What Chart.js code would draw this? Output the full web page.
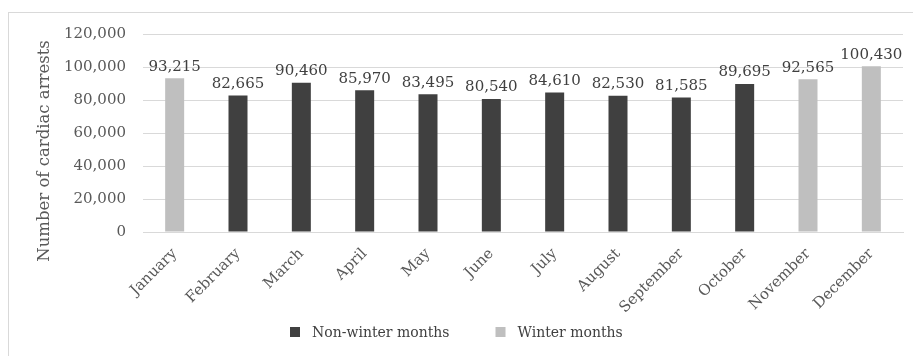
<!DOCTYPE html>
<html>
<head>
<meta charset="utf-8">
<script src="https://cdn.jsdelivr.net/npm/chart.js@4.4.1/dist/chart.umd.min.js"></script>
<style>
html,body{margin:0;padding:0;background:#fff;}
#wrap{width:913px;height:356px;position:relative;}
</style>
</head>
<body>
<div id="wrap"><canvas id="c" width="913" height="356"></canvas></div>
<script>
const months = ["January","February","March","April","May","June","July","August","September","October","November","December"];
const arrests = [93215, 82665, 90460, 85970, 83495, 80540, 84610, 82530, 81585, 89695, 92565, 100430];
const isWinter = [true,false,false,false,false,false,false,false,false,false,true,true];
const seriesNames = ["Non-winter months","Winter months"];
const seriesColors = ["#404040","#bfbfbf"];
const yTicks = [0, 20000, 40000, 60000, 80000, 100000, 120000];
const yTitle = "Number of cardiac arrests";

const nonWinter = arrests.map((v,i)=> isWinter[i] ? null : v);
const winter = arrests.map((v,i)=> isWinter[i] ? v : null);

const FONT = "'DejaVu Serif', serif";
const fmt = v => v.toLocaleString('en-US');

const framePlugin = {
  id: 'frame',
  beforeDraw(chart){
    const ctx = chart.ctx;
    ctx.save();
    ctx.fillStyle = '#fff';
    ctx.fillRect(0,0,chart.width,chart.height);
    ctx.strokeStyle = '#d9d9d9';
    ctx.lineWidth = 1;
    ctx.strokeRect(8.5, 12.5, 1200, 1200);
    ctx.restore();
  }
};

const labelPlugin = {
  id: 'vlabels',
  afterDatasetsDraw(chart){
    const ctx = chart.ctx;
    ctx.save();
    ctx.font = "15px " + FONT;
    ctx.fillStyle = '#404040';
    ctx.textAlign = 'center';
    ctx.textBaseline = 'bottom';
    chart.data.datasets.forEach((ds, di) => {
      const meta = chart.getDatasetMeta(di);
      meta.data.forEach((bar, i) => {
        const v = ds.data[i];
        if (v == null) return;
        ctx.fillText(fmt(v), bar.x, bar.y - 4);
      });
    });
    ctx.restore();
  }
};

const yTitlePlugin = {
  id: 'ytitle',
  afterDraw(chart){
    const ctx = chart.ctx;
    ctx.save();
    ctx.font = "16.5px " + FONT;
    ctx.fillStyle = '#595959';
    ctx.textAlign = 'center';
    ctx.textBaseline = 'middle';
    ctx.translate(45, 151);
    ctx.rotate(-Math.PI/2);
    ctx.fillText(yTitle, 0, 0);
    ctx.restore();
  }
};

const legendPlugin = {
  id: 'customLegend',
  afterDraw(chart){
    const ctx = chart.ctx;
    ctx.save();
    ctx.font = "14px " + FONT;
    ctx.textBaseline = 'middle';
    ctx.textAlign = 'left';
    const box = 10, gapText = 12, gapItem = 46;
    const items = chart.data.datasets.map(ds => ({ text: ds.label, color: ds.backgroundColor }));
    let total = 0;
    items.forEach((it, k) => {
      it.w = ctx.measureText(it.text).width;
      total += box + gapText + it.w + (k < items.length - 1 ? gapItem : 0);
    });
    let x = Math.round(chart.width / 2 - total / 2);
    const cy = 332;
    items.forEach(it => {
      ctx.fillStyle = it.color;
      ctx.fillRect(x, cy - box/2, box, box);
      ctx.fillStyle = '#404040';
      ctx.fillText(it.text, x + box + gapText, cy + 1);
      x += box + gapText + it.w + gapItem;
    });
    ctx.restore();
  }
};

new Chart(document.getElementById('c'), {
  type: 'bar',
  data: {
    labels: months,
    datasets: [
      { label: seriesNames[0], data: nonWinter, backgroundColor: seriesColors[0], grouped: false },
      { label: seriesNames[1], data: winter, backgroundColor: seriesColors[1], grouped: false }
    ]
  },
  options: {
    responsive: false,
    animation: false,
    devicePixelRatio: 1,
    layout: { padding: { left: 0, right: 10, top: 34, bottom: 34 } },
    datasets: { bar: { categoryPercentage: 1, barPercentage: 0.3 } },
    plugins: {
      legend: { display: false },
      tooltip: { enabled: false }
    },
    scales: {
      x: {
        grid: { display: false, drawTicks: false },
        border: { display: true, color: '#d9d9d9' },
        ticks: {
          font: { family: FONT, size: 15 },
          color: '#595959',
          minRotation: 45,
          maxRotation: 45,
          autoSkip: false,
          padding: 13
        },
        afterFit(scale){ scale.height = 90; }
      },
      y: {
        min: 0, max: 120000,
        afterBuildTicks(scale){ scale.ticks = yTicks.map(v=>({value:v})); },
        grid: { color: '#d9d9d9', drawTicks: false },
        border: { display: false },
        ticks: {
          font: { family: FONT, size: 15 },
          color: '#595959',
          padding: 17,
          callback: v => fmt(v)
        },
        afterFit(scale){ scale.width = 143; }
      }
    }
  },
  plugins: [framePlugin, labelPlugin, yTitlePlugin, legendPlugin]
});
</script>
</body>
</html>
